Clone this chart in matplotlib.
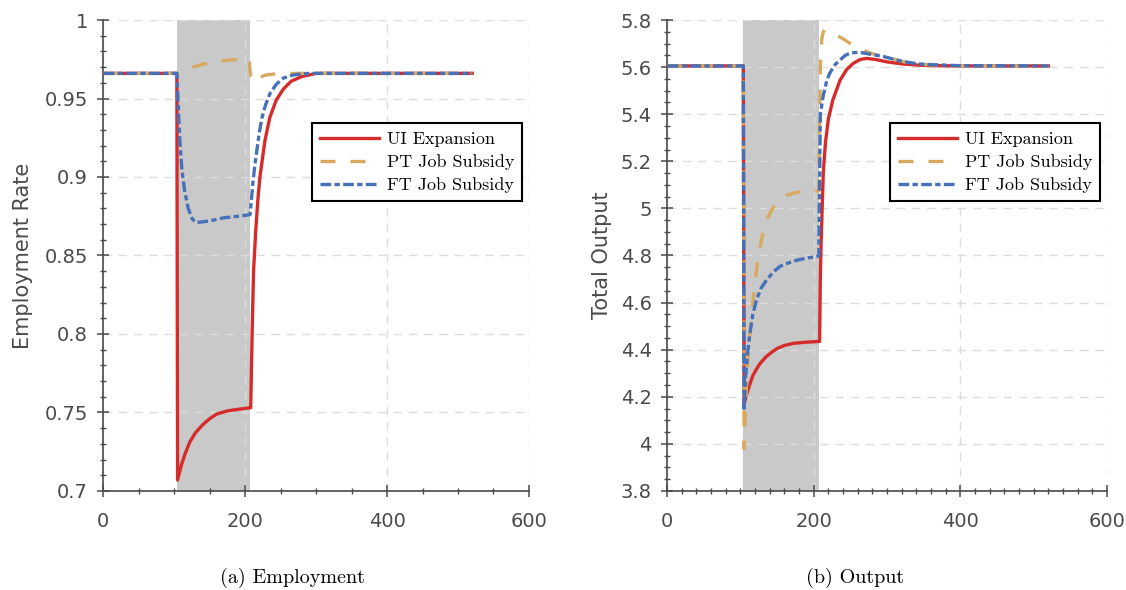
import matplotlib
matplotlib.use("Agg")
import matplotlib.pyplot as plt
from matplotlib.ticker import MultipleLocator

# ---------------- data ----------------
labels = ["UI Expansion", "PT Job Subsidy", "FT Job Subsidy"]
shock_start = 104
shock_end = 207

# (a) employment rate
emp_ui_x = [1, 104, 105, 110, 115, 122, 130, 140, 150, 160, 175, 190, 207, 208, 210, 212, 215, 218, 221, 228, 235, 244, 254, 265, 280, 300, 520]
emp_ui_y = [0.966, 0.966, 0.707, 0.716, 0.723, 0.731, 0.737, 0.742, 0.746, 0.749, 0.751, 0.752, 0.753, 0.753, 0.80, 0.84, 0.865, 0.885, 0.90, 0.923, 0.938, 0.949, 0.956, 0.961, 0.964, 0.966, 0.966]

emp_pt_x = [1, 104, 110, 120, 134, 151, 165, 179, 197, 206, 207, 209, 213, 220, 230, 245, 270, 520]
emp_pt_y = [0.966, 0.966, 0.9675, 0.969, 0.971, 0.973, 0.974, 0.9745, 0.975, 0.975, 0.968, 0.961, 0.962, 0.9635, 0.965, 0.9658, 0.966, 0.966]

emp_ft_x = [1, 104, 106, 108, 111, 115, 120, 126, 132, 150, 170, 190, 207, 209, 211, 214, 217, 220, 224, 229, 235, 244, 254, 268, 290, 520]
emp_ft_y = [0.966, 0.966, 0.945, 0.924, 0.905, 0.891, 0.880, 0.873, 0.871, 0.872, 0.874, 0.875, 0.876, 0.885, 0.896, 0.908, 0.918, 0.928, 0.938, 0.946, 0.953, 0.959, 0.963, 0.965, 0.966, 0.966]

# (b) total output
out_ui_x = [1, 104, 105, 108, 112, 117, 122, 127, 135, 143, 150, 160, 172, 190, 207, 208, 209, 210, 211, 213, 216, 220, 226, 236, 245, 254, 263, 272, 285, 300, 322, 345, 370, 400, 520]
out_ui_y = [5.605, 5.605, 4.17, 4.205, 4.245, 4.29, 4.318, 4.342, 4.37, 4.39, 4.405, 4.418, 4.427, 4.432, 4.435, 4.435, 4.70, 4.85, 4.95, 5.15, 5.28, 5.38, 5.46, 5.545, 5.59, 5.616, 5.632, 5.637, 5.632, 5.622, 5.613, 5.608, 5.606, 5.605, 5.605]

out_pt_x = [1, 104, 105, 107, 110, 114, 118, 124, 131, 138, 145, 155, 163, 175, 190, 207, 209, 211, 213, 216, 222, 231, 240, 250, 261, 272, 285, 295, 322, 345, 370, 400, 520]
out_pt_y = [5.605, 5.605, 3.98, 4.15, 4.35, 4.50, 4.63, 4.79, 4.90, 4.965, 5.005, 5.04, 5.055, 5.067, 5.073, 5.074, 5.60, 5.72, 5.75, 5.758, 5.752, 5.736, 5.72, 5.70, 5.683, 5.666, 5.652, 5.645, 5.623, 5.613, 5.607, 5.605, 5.605]

out_ft_x = [1, 104, 105, 107, 110, 113, 117, 122, 128, 136, 145, 154, 165, 177, 192, 207, 208, 209, 213, 218, 222, 229, 236, 243, 250, 260, 268, 280, 295, 322, 345, 363, 400, 520]
out_ft_y = [5.605, 5.605, 4.14, 4.28, 4.39, 4.47, 4.55, 4.612, 4.66, 4.697, 4.73, 4.754, 4.768, 4.78, 4.79, 4.797, 5.10, 5.40, 5.48, 5.545, 5.575, 5.61, 5.63, 5.65, 5.66, 5.663, 5.66, 5.653, 5.645, 5.623, 5.613, 5.61, 5.606, 5.605]

# ---------------- styles ----------------
red = "#d62b2b"
tan = "#d8a95f"
blue = "#4670b8"
axcol = "#4a4a4a"

fig = plt.figure(figsize=(11.26, 5.90), dpi=100)
ax1 = fig.add_axes([0.0915, 0.1678, 0.3783, 0.7983])
ax2 = fig.add_axes([0.5924, 0.1678, 0.3908, 0.7983])


def style(ax, ylim, ymaj, ymin, xmin_step, ylabel, lpad):
    ax.axvspan(shock_start, shock_end, color="#c9c9c9", lw=0, zorder=1)
    ax.set_xlim(0, 600)
    ax.set_ylim(*ylim)
    ax.xaxis.set_major_locator(MultipleLocator(200))
    ax.xaxis.set_minor_locator(MultipleLocator(xmin_step))
    ax.yaxis.set_major_locator(MultipleLocator(ymaj))
    ax.yaxis.set_minor_locator(MultipleLocator(ymin))
    ax.yaxis.set_major_formatter(plt.FuncFormatter(lambda v, p: f"{v:.2f}".rstrip("0").rstrip(".")))
    for s in ["top", "right"]:
        ax.spines[s].set_visible(False)
    for s in ["left", "bottom"]:
        ax.spines[s].set_color(axcol)
        ax.spines[s].set_linewidth(1.2)
    ax.tick_params(which="major", direction="inout", length=8, width=1.1, color=axcol,
                   labelcolor=axcol, labelsize=14)
    ax.tick_params(which="minor", direction="inout", length=5, width=1.0, color=axcol)
    ax.tick_params(axis="y", which="major", pad=7)
    ax.tick_params(axis="x", which="major", pad=11)
    ax.grid(True, which="major", color="#dcdcdc", linestyle=(0, (6, 5)), linewidth=1.0)
    ax.set_ylabel(ylabel, fontsize=15, color=axcol, labelpad=lpad)


style(ax1, (0.7, 1.0), 0.05, 0.01, 50, "Employment Rate", 8)
style(ax2, (3.8, 5.8), 0.2, 0.05, 20, "Total Output", 6)

lw = 2.4
for ax, xs, ys in [(ax1, [emp_ui_x, emp_pt_x, emp_ft_x], [emp_ui_y, emp_pt_y, emp_ft_y]),
                   (ax2, [out_ui_x, out_pt_x, out_ft_x], [out_ui_y, out_pt_y, out_ft_y])]:
    ax.plot(xs[0], ys[0], color=red, lw=lw, label=labels[0], zorder=3)
    ax.plot(xs[1], ys[1], color=tan, lw=lw, dashes=(4.5, 4.5), label=labels[1], zorder=4)
    ax.plot(xs[2], ys[2], color=blue, lw=lw, dashes=(3.2, 1.0, 1.6, 1.0), label=labels[2], zorder=5)
    leg = ax.legend(loc="upper right", bbox_to_anchor=(0.984, 0.781), borderaxespad=0,
                    prop={"family": "cmr10", "size": 13}, fancybox=False, framealpha=1,
                    edgecolor="black", handlelength=3.3, handletextpad=0.4,
                    labelspacing=0.4, borderpad=0.45)
    leg.get_frame().set_linewidth(1.5)

fig.text(0.260, 0.02, "(a) Employment", family="cmr10", fontsize=14.5, ha="center", va="center")
fig.text(0.759, 0.02, "(b) Output", family="cmr10", fontsize=14.5, ha="center", va="center")

fig.savefig("out.png", dpi=100)
